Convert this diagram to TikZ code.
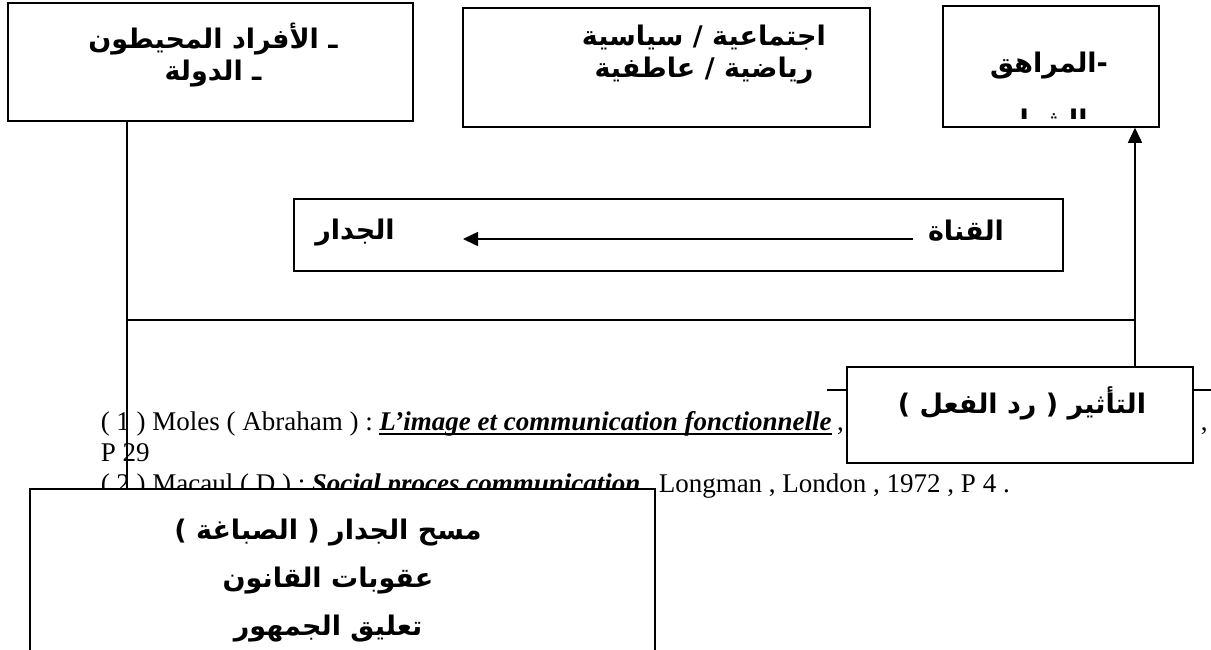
\documentclass[tikz,border=0pt]{standalone}
\usepackage{fontspec}
\setmainfont{Liberation Serif}
\newfontfamily\arabicfont[Script=Arabic]{DejaVu Sans}
\TeXXeTstate=1
\usetikzlibrary{arrows.meta}

\begin{document}
\begin{tikzpicture}[x=1pt,y=-1pt,line width=1.5pt,
    box/.style={draw,fill=white,inner sep=0pt},
    artext/.style={font=\arabicfont\bfseries\fontsize{27}{32}\selectfont,align=center,inner sep=0pt},
    fn/.style={font=\fontsize{27}{30}\selectfont,anchor=base west,inner sep=0pt},
    pil/.style={-{Triangle[length=15pt,width=14pt]}}]
\useasboundingbox (0,0) rectangle (1211,649);

% footnotes behind the boxes
\node[fn] (fa) at (100,430) {( 1 ) Moles ( Abraham ) :};
\node[fn] (titel) at ([xshift=5pt]fa.base east) {\textbf{\textit{L’image et communication fonctionnelle}}};
\node[fn] (fa2) at ([xshift=4pt]titel.base east) {,};
\draw[line width=2.5pt] ([yshift=-4pt]titel.base west) -- ([yshift=-4pt]titel.base east);
\node[fn] (fb) at (100,461) {P 29};
\node[fn] (fc) at (100,492) {( 2 ) Macaul ( D ) :};
\node[fn] (titel2) at ([xshift=5pt]fc.base east) {\textbf{\textit{Social proces communication}}};
\draw[line width=2.5pt] ([yshift=-4pt]titel2.base west) -- ([yshift=-4pt]titel2.base east);
\node[fn] (fd) at (658,492) {Longman , London , 1972 , P 4 .};
\node[fn] (komma) at (1200,430) {,};

% boxes
\node[box,minimum width=405pt,minimum height=118pt] (afrad) at (210.5,62) {};
\node[box,minimum width=407pt,minimum height=119pt] (majal) at (666.5,67.5) {};
\node[box,minimum width=216pt,minimum height=121pt] (murahiq) at (1051,66.5) {};
\node[box,minimum width=769pt,minimum height=72pt] (qanat) at (678.5,235) {};
\node[box,minimum width=346pt,minimum height=96pt] (taathir) at (1020,415) {};
\node[box,minimum width=625pt,minimum height=175pt] (jidar) at (342.5,576.5) {};

% texts
\node[artext] (afrad-t) at (213,55) {\beginR ـ الأفراد المحيطون\endR\\\beginR ـ الدولة\endR};
\node[artext] (majal-t) at (704,55) {\beginR اجتماعية / سياسية\endR\\\beginR رياضية / عاطفية\endR};
\node[artext] (murahiq-t) at (1049,66) {\beginR -المراهق\endR};
\begin{scope}
  \clip (murahiq.north west) rectangle (murahiq.east |- 0,118);
  \node[artext] (shabab-t) at (1040,122) {\beginR الشباب\endR};
\end{scope}
\node[artext] (jidar-t) at (355,233) {\beginR الجدار\endR};
\node[artext,inner xsep=14pt] (qanat-t) at (966,231) {\beginR القناة\endR};
\node[artext] (taathir-t) at (1022,403) {\beginR التأثير ( رد الفعل )\endR};
\node[artext,font=\arabicfont\bfseries\fontsize{27}{48}\selectfont] (musuh-t) at (328,581)
  {\beginR مسح الجدار ( الصباغة )\endR\\\beginR عقوبات القانون\endR\\\beginR تعليق الجمهور\endR};

% connectors
\coordinate (pfeil) at (463,239);
\coordinate (knl) at (127,320);
\coordinate (knr) at (1135,320);
\coordinate (stl) at (827,390);
\coordinate (str) at (1211,390);
\draw[pil] (qanat-t.west |- pfeil) -- (pfeil);
\draw (afrad.south -| knl) -- (jidar.north -| knl);
\draw (knl) -- (knr);
\draw[pil] (taathir.north -| knr) -- (murahiq.south -| knr);
\draw (stl) -- (taathir.west |- stl);
\draw (taathir.east |- str) -- (str);
\end{tikzpicture}
\end{document}
